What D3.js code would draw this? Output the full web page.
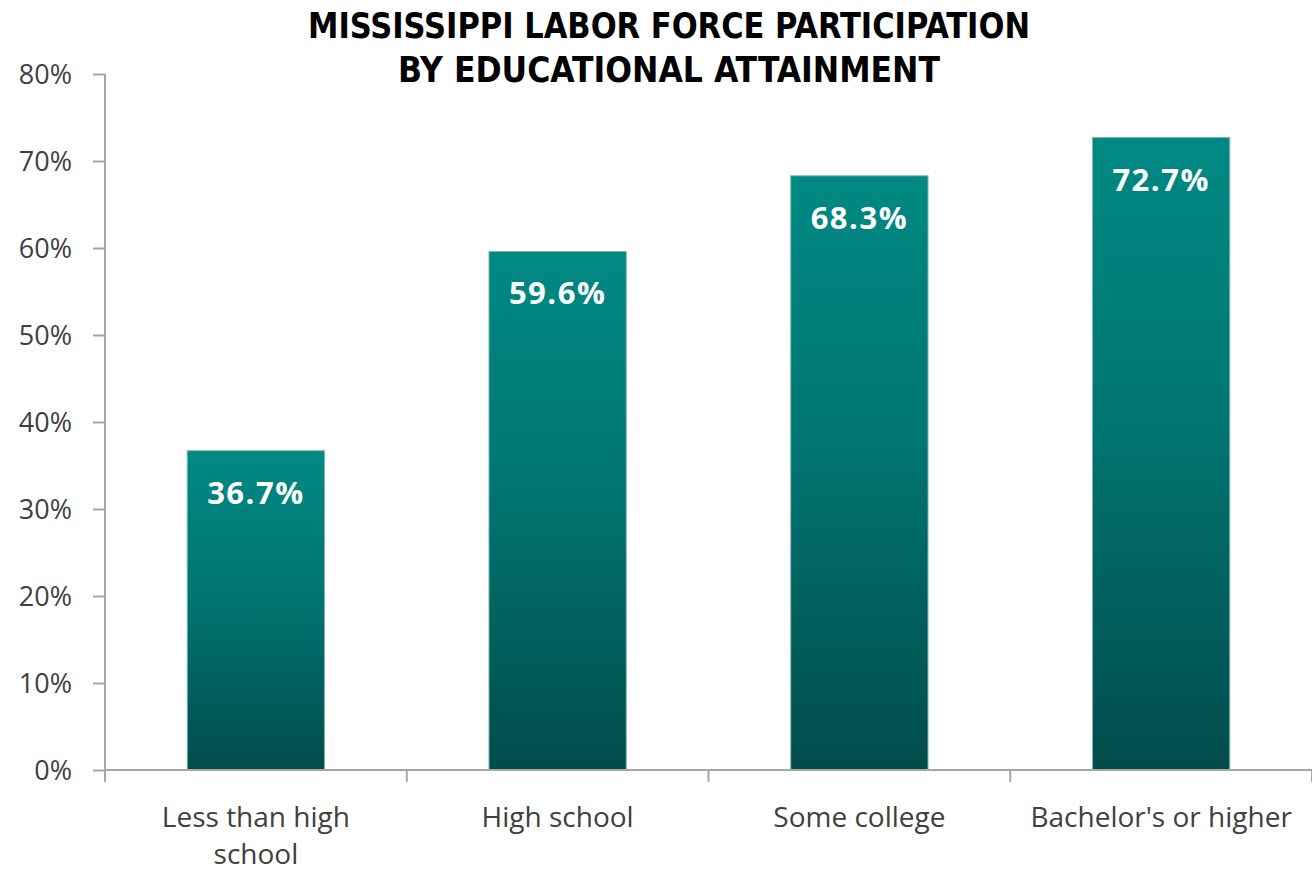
<!DOCTYPE html>
<html>
<head>
<meta charset="utf-8">
<script src="https://cdn.jsdelivr.net/npm/d3@7"></script>
<style>
  body { margin: 0; background: #fff; }
  svg { display: block; }
</style>
</head>
<body>
<script>
// chart data
var categories = ["Less than high school", "High school", "Some college", "Bachelor's or higher"];
var labelLines = [["Less than high", "school"], ["High school"], ["Some college"], ["Bachelor's or higher"]];
var values = [36.7, 59.6, 68.3, 72.7];
var yTicks = [0, 10, 20, 30, 40, 50, 60, 70, 80];
var titleLines = ["MISSISSIPPI LABOR FORCE PARTICIPATION", "BY EDUCATIONAL ATTAINMENT"];
var titleWidths = [722, 542];

var W = 1312, H = 874;
var margin = { top: 74, right: 0, bottom: 104, left: 105 };
var width = W - margin.left - margin.right,
    height = H - margin.top - margin.bottom;

var svg = d3.select("body").append("svg")
    .attr("width", W)
    .attr("height", H);

var defs = svg.append("defs");
var grad = defs.append("linearGradient")
    .attr("id", "barGrad")
    .attr("x1", 0).attr("y1", 0).attr("x2", 0).attr("y2", 1);
grad.append("stop").attr("offset", "0%").attr("stop-color", "#008984");
grad.append("stop").attr("offset", "45%").attr("stop-color", "#007572");
grad.append("stop").attr("offset", "100%").attr("stop-color", "#024c4b");

// title
svg.append("g").selectAll("text")
    .data(titleLines)
    .enter()
    .append("text")
    .attr("x", 669)
    .attr("y", (d, i) => 38 + i * 44)
    .attr("text-anchor", "middle")
    .attr("textLength", (d, i) => titleWidths[i])
    .attr("lengthAdjust", "spacingAndGlyphs")
    .style("font-family", "'DejaVu Sans Condensed', 'Open Sans', sans-serif")
    .style("font-weight", "bold")
    .style("font-size", "35px")
    .style("fill", "#000")
    .text(d => d);

var g = svg.append("g")
    .attr("transform", "translate(" + margin.left + "," + margin.top + ")");

var xScale = d3.scaleBand()
    .domain(categories)
    .range([0, width])
    .paddingInner(0.545)
    .paddingOuter(0.2725);

var yScale = d3.scaleLinear()
    .domain([0, 80])
    .range([height, 0]);

// y axis
var yAxis = d3.axisLeft(yScale)
    .tickValues(yTicks)
    .tickSize(12)
    .tickPadding(21)
    .tickFormat(d => d + "%");

var yg = g.append("g").call(yAxis);
yg.select(".domain").attr("stroke", "#a6a6a6").attr("stroke-width", 2)
    .attr("d", "M0," + yScale(80) + "V" + height);
yg.selectAll(".tick line").attr("stroke", "#a6a6a6").attr("stroke-width", 2);
yg.selectAll(".tick text")
    .attr("dy", "0.36em")
    .style("font-family", "'Open Sans', 'Noto Sans', sans-serif")
    .style("font-size", "27px")
    .style("fill", "#404040");

// bars
g.selectAll(".bar")
    .data(values)
    .enter()
    .append("rect")
    .attr("class", "bar")
    .attr("x", (d, i) => xScale(categories[i]))
    .attr("width", xScale.bandwidth())
    .attr("y", d => yScale(d))
    .attr("height", d => height - yScale(d))
    .attr("fill", "url(#barGrad)")
    .attr("stroke", "#7fb9b7")
    .attr("stroke-width", 1);

// value labels
g.selectAll(".val")
    .data(values)
    .enter()
    .append("text")
    .attr("class", "val")
    .attr("x", (d, i) => xScale(categories[i]) + xScale.bandwidth() / 2)
    .attr("y", d => yScale(d) + 53)
    .attr("text-anchor", "middle")
    .style("font-family", "'Open Sans', 'Noto Sans', sans-serif")
    .style("font-weight", "bold")
    .style("font-size", "31px")
    .style("letter-spacing", "1.5px")
    .style("fill", "#fff")
    .text(d => d.toFixed(1) + "%");

// x axis
var xg = g.append("g").attr("transform", "translate(0," + height + ")");
xg.append("line")
    .attr("x1", 0).attr("x2", width)
    .attr("y1", 0).attr("y2", 0)
    .attr("stroke", "#a6a6a6").attr("stroke-width", 2);

var bounds = d3.range(categories.length + 1).map(i => i * width / categories.length);
xg.selectAll(".xtick")
    .data(bounds)
    .enter()
    .append("line")
    .attr("x1", d => d).attr("x2", d => d)
    .attr("y1", 0).attr("y2", 12)
    .attr("stroke", "#a6a6a6").attr("stroke-width", 2);

var xl = xg.selectAll(".xlab")
    .data(categories)
    .enter()
    .append("text")
    .attr("x", d => xScale(d) + xScale.bandwidth() / 2)
    .attr("y", 57)
    .attr("text-anchor", "middle")
    .style("font-family", "'Open Sans', 'Noto Sans', sans-serif")
    .style("font-size", "28px")
    .style("fill", "#404040");
xl.selectAll("tspan")
    .data((d, i) => labelLines[i])
    .enter()
    .append("tspan")
    .attr("x", function () { return d3.select(this.parentNode).attr("x"); })
    .attr("dy", (d, i) => i === 0 ? 0 : 37)
    .text(d => d);
</script>
</body>
</html>
